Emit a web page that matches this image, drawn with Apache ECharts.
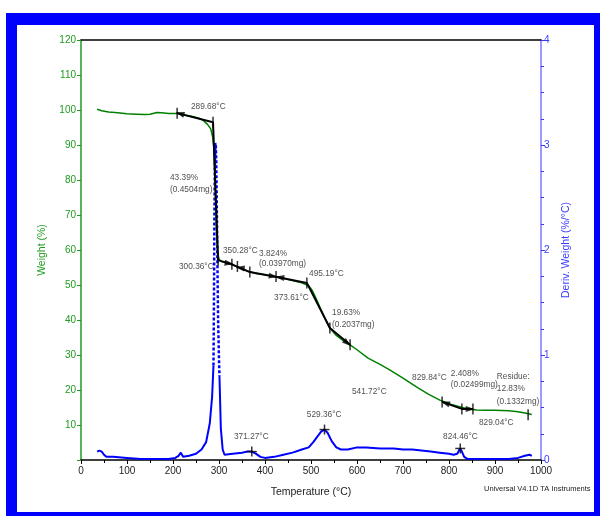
<!DOCTYPE html>
<html>
<head>
<meta charset="utf-8">
<script src="https://cdn.jsdelivr.net/npm/echarts@6/dist/echarts.min.js"></script>
<style>
html,body{margin:0;padding:0;width:600px;height:516px;background:#fff;overflow:hidden;}
#frame{position:absolute;left:6px;top:13px;width:594px;height:503px;background:#0000ff;}
#inner{position:absolute;left:17px;top:25px;width:577px;height:487px;background:#fff;}
#chart{position:absolute;left:0;top:0;width:600px;height:516px;}
</style>
</head>
<body>
<div id="frame"></div>
<div id="inner"></div>
<div id="chart"></div>
<script>
// ---------------- data ----------------
const xTicks = [0,100,200,300,400,500,600,700,800,900,1000];
const weightTicks = [10,20,30,40,50,60,70,80,90,100,110,120];
const derivTicks = [0,1,2,3,4];

const weightT = [35,45,60,80,100,120,140,150,165,175,190,210,225,240,255,265,275,282,286,289,291,293,295,297,300,305,320,340,360,380,400,420,440,460,480,495,502,510,520,530,541,555,570,585,600,624,650,672,700,730,755,780,805,829,845,860,880,900,930,950,965,980];
const weightW = [100.2,99.8,99.4,99.2,98.9,98.8,98.7,98.8,99.3,99.2,99.0,99.0,98.6,98.2,97.7,97.1,95.9,94.6,92.5,89,82,72,64,59.5,57.4,56.7,56.2,55.2,54.1,53.3,52.9,52.4,51.9,51.3,50.6,49.8,48.6,46.5,43.5,40.6,37.7,35.6,34.1,32.9,31.5,29.1,27.3,25.7,23.4,20.8,18.8,17.1,15.9,15.0,14.5,14.3,14.2,14.2,14.1,13.8,13.4,13.0];

const derivT = [35,40,45,50,55,70,100,130,160,190,205,212,217,222,235,250,262,272,280,285,288];
const derivV = [0.08,0.09,0.08,0.05,0.03,0.03,0.02,0.01,0.01,0.01,0.02,0.04,0.07,0.03,0.04,0.06,0.1,0.17,0.35,0.6,0.9];
const peakT = [288,289,290,291,292,293,294,295,296,297,298,300,301];
const peakV = [0.9,1.5,2.3,2.8,3.02,3.0,2.85,2.5,2.1,1.7,1.35,0.95,0.8];
const deriv2T = [301,304,308,312,330,350,362,371,380,390,400,420,440,460,480,495,505,515,522,529,536,545,555,565,580,600,620,650,680,700,720,740,760,780,800,810,818,824,828,833,840,860,880,900,930,950,965,975,980];
const deriv2V = [0.8,0.3,0.1,0.05,0.06,0.07,0.08,0.08,0.06,0.03,0.02,0.03,0.05,0.07,0.1,0.12,0.17,0.23,0.27,0.29,0.26,0.18,0.12,0.1,0.1,0.12,0.12,0.11,0.11,0.1,0.1,0.09,0.08,0.07,0.06,0.05,0.06,0.11,0.08,0.03,0.01,0.01,0.01,0.01,0.01,0.02,0.04,0.05,0.04];

// step-analysis annotation lines (temperature, weight)
const step1T = [209,287,298];
const step1W = [99.1,96.5,57.1];
const step2T = [298,328,367,426,491,541,585];
const step2W = [57.1,55.9,53.7,52.3,50.6,37.7,32.9];
const step3T = [785,828,852];
const step3W = [16.6,14.6,14.6];
const tickT = [209,287,298,328,340,367,424,491,541,585,785,828,852,972];
const tickW = [99.1,96.5,57.1,55.9,55.3,53.7,52.4,50.6,37.7,32.9,16.6,14.6,14.6,12.9];
const arrowT = [215,322,346,418,432,579,792,846];
const arrowW = [98.95,56.2,54.9,52.5,52.2,33.4,16.3,14.6];
const arrowRot = [73,-98,82,-98,82,-130,71,-90];
// derivative peak markers
const peakMarkT = [371.27,529.36,824.46];
const peakMarkV = [0.08,0.29,0.11];

// text annotations: [text, temperature, weight]
const notes = [
  ['289.68°C',239,100.9],
  ['43.39%',193.5,80.6],
  ['(0.4504mg)',193.5,77.1],
  ['300.36°C',213,55.1],
  ['350.28°C',308.7,59.7],
  ['3.824%',387,58.9],
  ['(0.03970mg)',387,56.0],
  ['495.19°C',495.7,53.1],
  ['373.61°C',419.6,46.3],
  ['19.63%',545.7,42.0],
  ['(0.2037mg)',545.7,38.6],
  ['541.72°C',589,19.4],
  ['829.84°C',719.6,23.4],
  ['2.408%',804,24.6],
  ['(0.02499mg)',804,21.4],
  ['Residue:',904,23.7],
  ['12.83%',904,20.3],
  ['(0.1332mg)',904,16.6],
  ['829.04°C',865,10.6],
  ['824.46°C',787,6.6],
  ['529.36°C',491,12.9],
  ['371.27°C',332.6,6.6]
];

// ---------------- chart ----------------
const FONT = "'Liberation Sans',Arial,sans-serif";
const GREEN = '#1f9a1f';
const BLUE = '#3a3aff';
const zip = (a,b) => a.map((v,i)=>[v,b[i]]);

const chart = echarts.init(document.getElementById('chart'), null, {renderer:'canvas'});
chart.setOption({
  backgroundColor: 'transparent',
  animation: false,
  textStyle: {fontFamily: FONT},
  grid: {left:81, right:59, top:40, bottom:56, containLabel:false},
  xAxis: [{
    type:'value', min:0, max:1000, interval:100, position:'bottom',
    name:'Temperature (°C)', nameLocation:'middle', nameGap:27,
    nameTextStyle:{fontFamily:FONT, fontSize:10.5, color:'#222'},
    axisLine:{onZero:false, lineStyle:{color:'#000', width:1.5}},
    axisTick:{length:4, lineStyle:{color:'#000'}},
    minorTick:{show:true, splitNumber:2, length:3, lineStyle:{color:'#000'}},
    axisLabel:{fontFamily:FONT, fontSize:10, color:'#222', margin:6,
      formatter: v => xTicks.includes(v) ? String(v) : ''},
    splitLine:{show:false}
  },{
    type:'value', min:0, max:1000, position:'top',
    axisLine:{onZero:false, lineStyle:{color:'#000', width:1.5}},
    axisTick:{show:false}, axisLabel:{show:false}, splitLine:{show:false}
  }],
  yAxis: [{
    type:'value', min:0, max:120, interval:10, position:'left',
    name:'Weight (%)', nameLocation:'middle', nameGap:33,
    nameTextStyle:{fontFamily:FONT, fontSize:10.5, color:GREEN},
    axisLine:{show:true, onZero:false, lineStyle:{color:GREEN, width:1.5}},
    axisTick:{show:true, length:4, lineStyle:{color:GREEN}},
    axisLabel:{fontFamily:FONT, fontSize:10, color:GREEN, margin:5,
      formatter: v => weightTicks.includes(v) ? String(v) : ''},
    splitLine:{show:false}
  },{
    type:'value', min:0, max:4, interval:1, position:'right',
    name:'Deriv. Weight (%/°C)', nameLocation:'middle', nameGap:18,
    nameTextStyle:{fontFamily:FONT, fontSize:10.5, color:BLUE},
    axisLine:{show:true, onZero:false, lineStyle:{color:'#7a7aff', width:1.5}},
    axisTick:{show:true, length:4, lineStyle:{color:BLUE}},
    minorTick:{show:true, splitNumber:4, length:3, lineStyle:{color:BLUE}},
    axisLabel:{fontFamily:FONT, fontSize:10, color:BLUE, margin:3,
      formatter: v => derivTicks.includes(v) ? String(v) : ''},
    splitLine:{show:false}
  }],
  series: [
    {type:'line', name:'deriv', yAxisIndex:1, data:zip(derivT,derivV), showSymbol:false,
      lineStyle:{color:'#0000ff', width:2}, z:2},
    {type:'line', name:'derivPeak', yAxisIndex:1, data:zip(peakT,peakV), showSymbol:false,
      lineStyle:{color:'#0000ff', width:2.5, type:[3,2]}, z:2},
    {type:'line', name:'deriv2', yAxisIndex:1, data:zip(deriv2T,deriv2V), showSymbol:false,
      lineStyle:{color:'#0000ff', width:2}, z:2},
    {type:'line', name:'weight', data:zip(weightT,weightW), showSymbol:false,
      lineStyle:{color:'#008000', width:1.5}, z:3},
    {type:'line', data:zip(step1T,step1W), showSymbol:false, lineStyle:{color:'#000', width:2}, z:4},
    {type:'line', data:zip(step2T,step2W), showSymbol:false, lineStyle:{color:'#000', width:2}, z:4},
    {type:'line', data:zip(step3T,step3W), showSymbol:false, lineStyle:{color:'#000', width:2}, z:4},
    {type:'scatter', data:zip(tickT,tickW), symbol:'rect', symbolSize:[1.5,11],
      itemStyle:{color:'#000'}, z:5},
    {type:'scatter', data:arrowT.map((t,i)=>({value:[t,arrowW[i]], symbolRotate:arrowRot[i]})),
      symbol:'triangle', symbolSize:[6,9], itemStyle:{color:'#000'}, z:5},
    {type:'scatter', yAxisIndex:1, data:zip(peakMarkT,peakMarkV), symbol:'rect', symbolSize:[10,1.5],
      itemStyle:{color:'#000'}, z:5},
    {type:'scatter', yAxisIndex:1, data:zip(peakMarkT,peakMarkV), symbol:'rect', symbolSize:[1.5,10],
      itemStyle:{color:'#000'}, z:5},
    {type:'scatter', data:notes.map(n=>({value:[n[1],n[2]], name:n[0]})), symbolSize:0, z:6,
      silent:true,
      label:{show:true, position:'inside', align:'left', verticalAlign:'middle',
        formatter: p => p.name, fontFamily:FONT, fontSize:8.3, color:'#222'}}
  ],
  graphic: [{
    type:'text', left:484, top:485,
    style:{text:'Universal V4.1D TA Instruments', font:"7.5px " + FONT, fill:'#222'}
  }]
});
</script>
</body>
</html>
